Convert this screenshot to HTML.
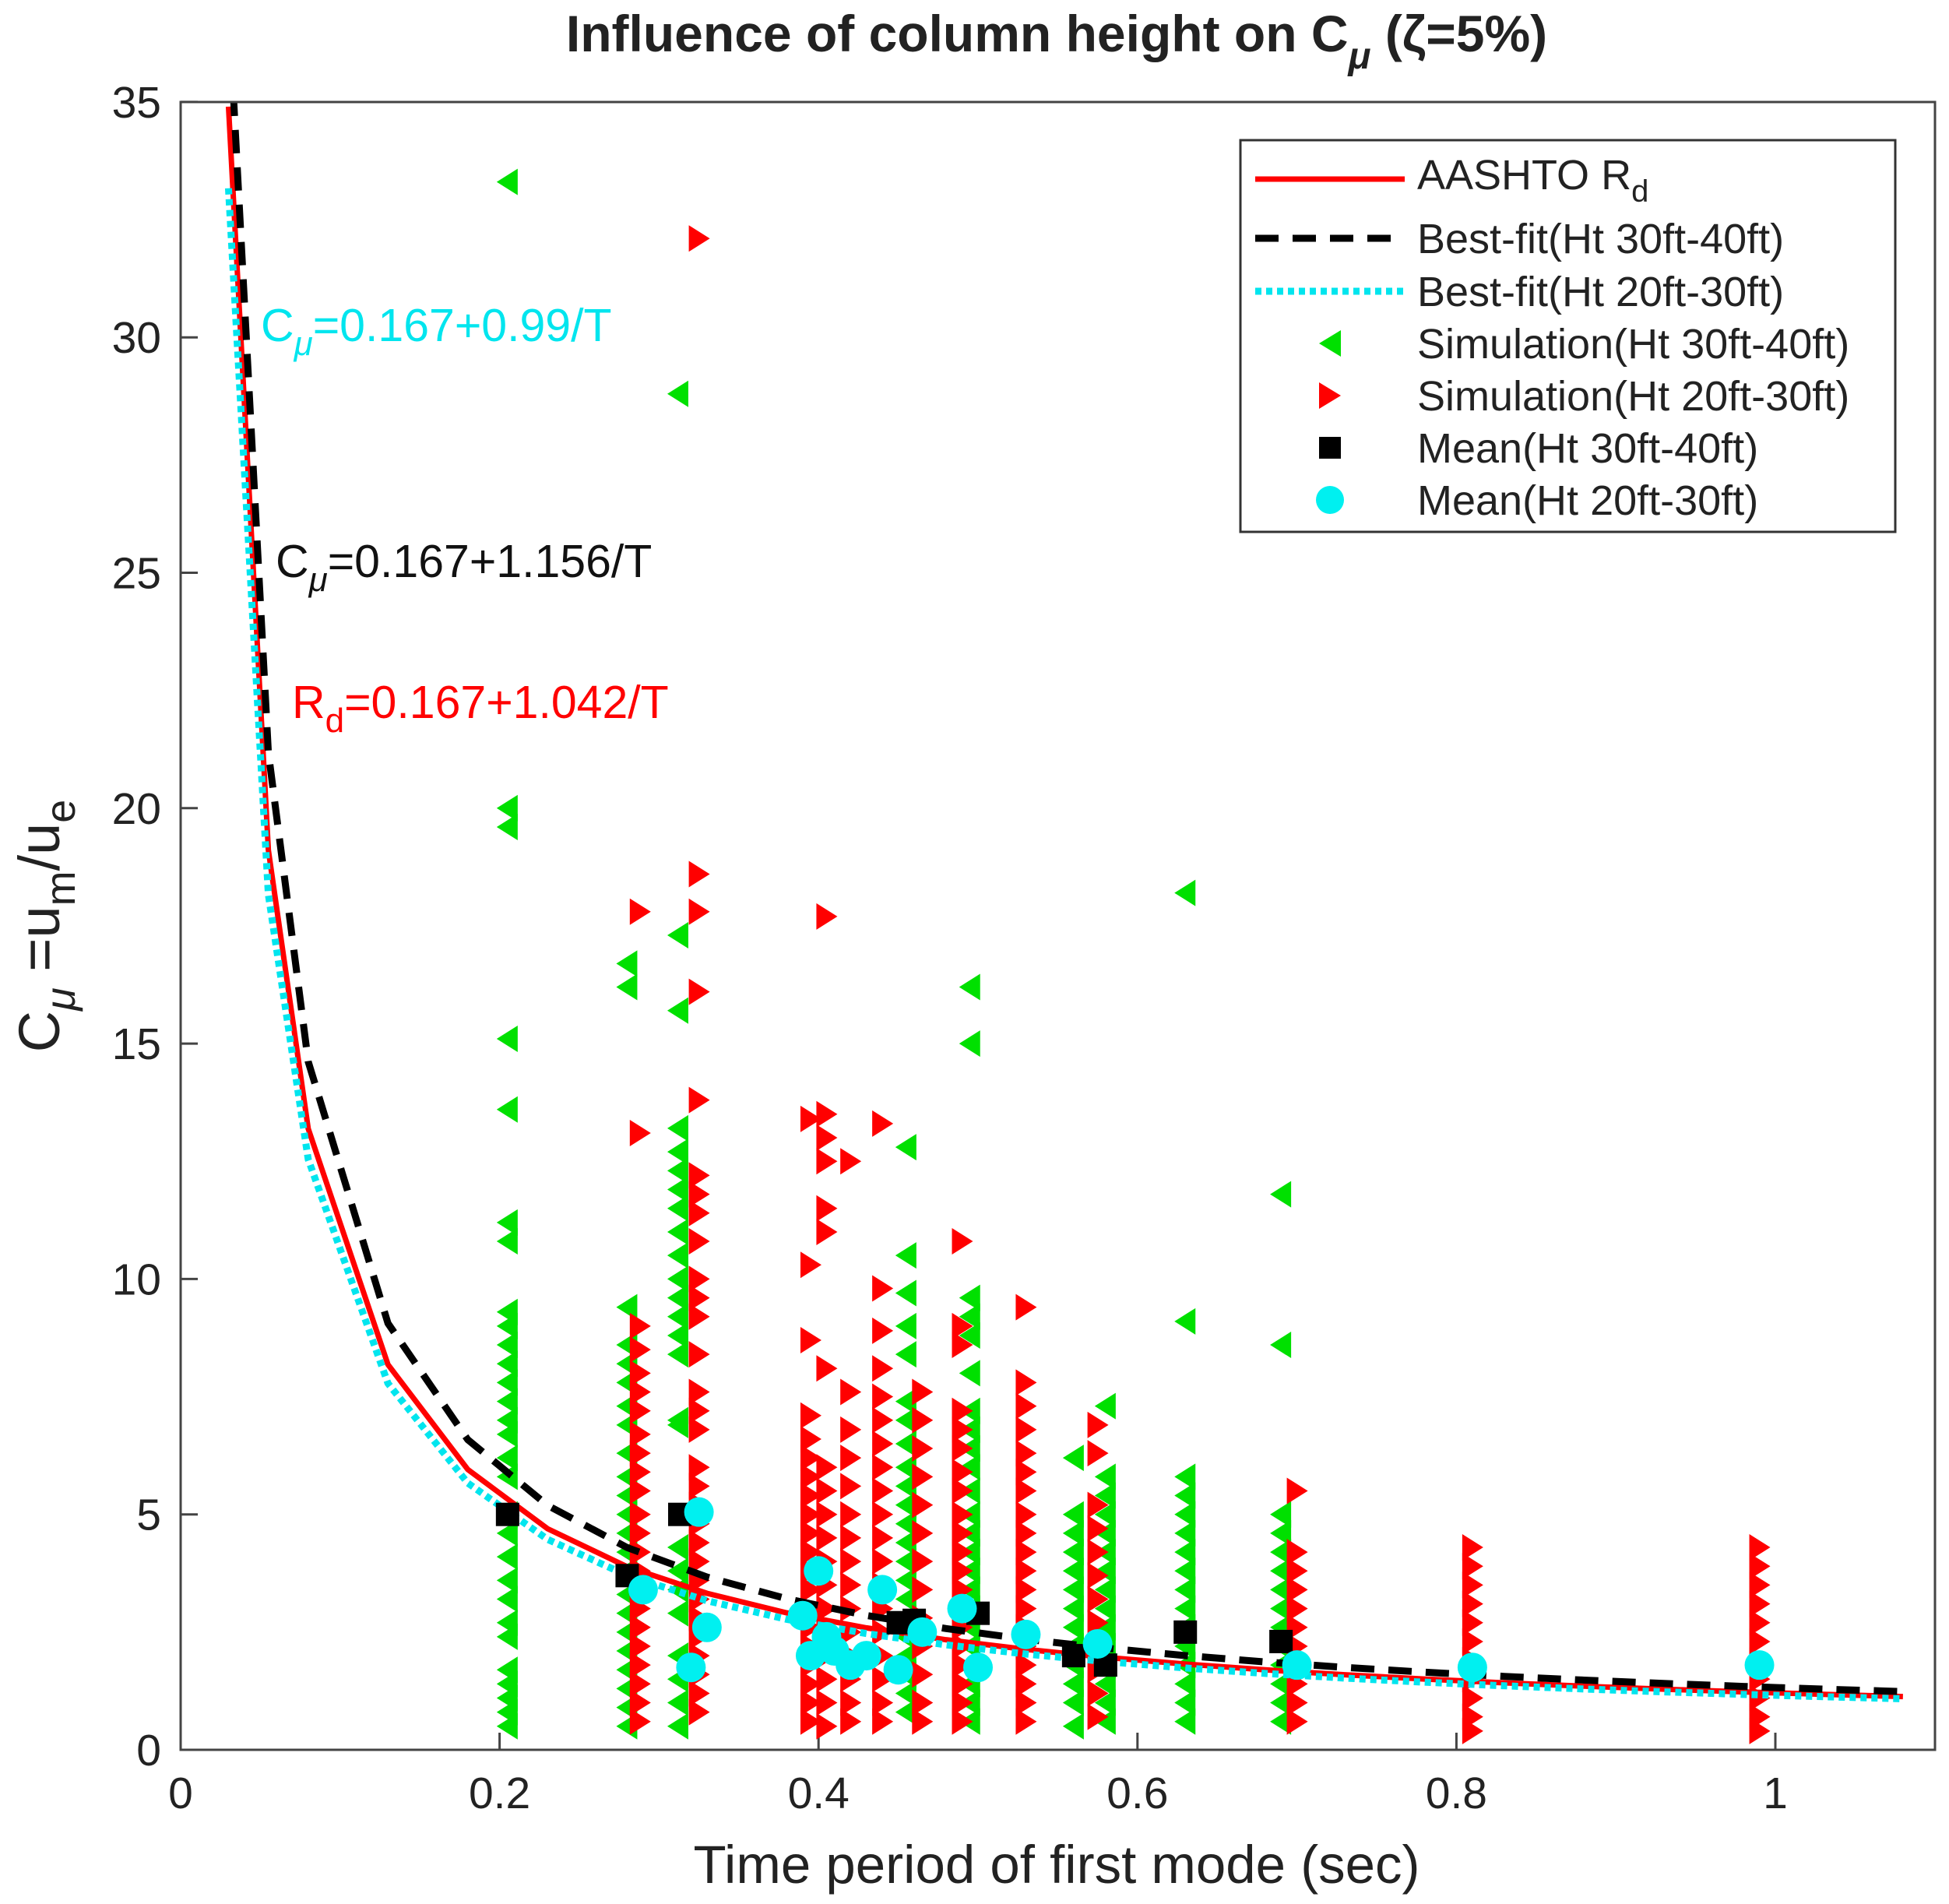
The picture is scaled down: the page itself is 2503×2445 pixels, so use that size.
<!DOCTYPE html>
<html><head><meta charset="utf-8"><style>
html,body{margin:0;padding:0;background:#fff;}
svg{display:block;font-family:"Liberation Sans",Arial,sans-serif;}
</style></head><body>
<svg id="chart" width="2503" height="2445" viewBox="0 0 2503 2445" xmlns="http://www.w3.org/2000/svg">
<defs><clipPath id="clip"><rect x="232" y="131" width="2253" height="2116"/></clipPath></defs>
<rect x="0" y="0" width="2503" height="2445" fill="#fff"/>
<text x="1357" y="66" font-size="66" font-weight="bold" text-anchor="middle" fill="#222">Influence of column height on C<tspan font-size="48" dy="22" font-style="italic">μ</tspan><tspan dy="-22"> (ζ=5%)</tspan></text>
<g id="ticks"></g>
<g id="marks" clip-path="url(#clip)"></g>
<rect x="232" y="131" width="2253" height="2116" fill="none" stroke="#444" stroke-width="3"/>
<text x="1357" y="2418" font-size="69" text-anchor="middle" fill="#222">Time period of first mode (sec)</text>
<text transform="translate(76,1189) rotate(-90)" font-size="74" text-anchor="middle" fill="#222">C<tspan font-size="54" dy="20" font-style="italic">μ</tspan><tspan dy="-20"> =u</tspan><tspan font-size="54" dy="20">m</tspan><tspan dy="-20">/u</tspan><tspan font-size="54" dy="20">e</tspan></text>
<text x="335" y="438" font-size="59" fill="#00e5ee">C<tspan font-size="44" dy="18" font-style="italic">μ</tspan><tspan dy="-18">=0.167+0.99/T</tspan></text>
<text x="354" y="741" font-size="59" fill="#111">C<tspan font-size="44" dy="18" font-style="italic">μ</tspan><tspan dy="-18">=0.167+1.156/T</tspan></text>
<text x="375" y="922" font-size="59" fill="#ff0000">R<tspan font-size="44" dy="18">d</tspan><tspan dy="-18">=0.167+1.042/T</tspan></text>
<g>
<rect x="1593" y="180" width="841" height="503" fill="#fff" stroke="#333" stroke-width="3"/>
<line x1="1612" y1="230" x2="1804" y2="230" stroke="#ff0000" stroke-width="7"/>
<text x="1820" y="243" font-size="54" fill="#222">AASHTO R<tspan font-size="40" dy="16">d</tspan></text>
<line x1="1612" y1="306" x2="1804" y2="306" stroke="#000" stroke-width="9" stroke-dasharray="30,18"/>
<text x="1820" y="325" font-size="54" fill="#222">Best-fit(Ht 30ft-40ft)</text>
<line x1="1612" y1="374" x2="1804" y2="374" stroke="#00e5ee" stroke-width="9" stroke-dasharray="8,6"/>
<text x="1820" y="393" font-size="54" fill="#222">Best-fit(Ht 20ft-30ft)</text>
<polygon points="1722,424 1722,458 1694,441" fill="#00e000"/>
<text x="1820" y="460" font-size="54" fill="#222">Simulation(Ht 30ft-40ft)</text>
<polygon points="1694,491 1694,525 1722,508" fill="#ff0000"/>
<text x="1820" y="527" font-size="54" fill="#222">Simulation(Ht 20ft-30ft)</text>
<rect x="1694" y="561" width="28" height="28" fill="#000"/>
<text x="1820" y="594" font-size="54" fill="#222">Mean(Ht 30ft-40ft)</text>
<circle cx="1708" cy="642" r="18" fill="#00f0f0"/>
<text x="1820" y="661" font-size="54" fill="#222">Mean(Ht 20ft-30ft)</text>
</g>
</svg>
<script>
const xTicks = [0, 0.2, 0.4, 0.6, 0.8, 1];
const xTickLabels = ["0", "0.2", "0.4", "0.6", "0.8", "1"];
const yTicks = [0, 5, 10, 15, 20, 25, 30, 35];
const yTickLabels = ["0", "5", "10", "15", "20", "25", "30", "35"];
const fitIntercept = 0.167;
const fitSlopes = [1.042, 1.156, 0.99]; // AASHTO, best-fit 30-40, best-fit 20-30
const curveT = [0.03,0.055,0.08,0.13,0.18,0.23,0.28,0.33,0.38,0.43,0.48,0.53,0.58,0.63,0.68,0.73,0.78,0.83,0.88,0.93,0.98,1.03,1.08];
const blackT = [0.033,0.055,0.08,0.13,0.18,0.23,0.28,0.33,0.38,0.43,0.48,0.53,0.58,0.63,0.68,0.73,0.78,0.83,0.88,0.93,0.98,1.03,1.08];
const sim30X = [0.205,0.28,0.312,0.455,0.495,0.56,0.58,0.63,0.69];
const sim30Y = [
 [33.3,20.0,19.6,15.1,13.6,11.2,10.8,9.3,9.0,8.6,8.2,7.8,7.4,7.0,6.7,6.2,5.8,5.0,4.6,4.1,3.6,3.2,2.7,2.4,1.7,1.4,1.1,0.8,0.5],
 [16.7,16.2,9.4,8.6,8.2,7.8,7.3,6.9,6.3,5.8,5.4,5.0,4.6,4.2,3.8,3.3,2.9,2.5,2.1,1.7,1.3,0.9,0.5],
 [28.8,17.3,15.7,13.2,12.7,12.3,11.9,11.5,11.0,10.5,10.0,9.6,9.2,8.8,8.4,7.0,6.9,4.3,3.8,3.4,2.9,2.0,1.5,1.0,0.5],
 [12.8,10.5,9.7,9.0,8.4,7.4,7.0,6.5,6.0,5.6,5.2,4.8,4.4,4.0,3.6,3.2,2.8,2.4,2.0,1.6,1.2,0.8],
 [16.2,15.0,9.6,9.2,8.8,8.0,7.2,6.8,6.4,6.0,5.5,5.0,4.6,4.2,3.8,3.4,3.0,2.6,2.2,1.8,1.4,1.0,0.6],
 [6.2,5.0,4.6,4.2,3.8,3.4,3.0,2.6,2.2,1.8,1.4,1.0,0.5],
 [7.3,5.8,5.4,5.0,4.6,4.2,3.8,3.4,3.0,2.6,2.2,1.8,1.4,1.0,0.6],
 [18.2,9.1,5.8,5.4,5.0,4.6,4.2,3.8,3.4,3.0,2.6,2.2,1.8,1.4,1.0,0.6],
 [11.8,8.6,5.0,4.6,4.2,3.8,3.4,3.0,2.6,2.2,1.8,1.4,1.0,0.6]
];
const sim20X = [0.288,0.325,0.395,0.405,0.42,0.44,0.465,0.49,0.53,0.575,0.70,0.81,0.99];
const sim20Y = [
 [17.8,13.1,9.0,8.5,8.0,7.6,7.2,6.7,6.3,5.9,5.5,5.0,4.6,4.2,3.8,3.4,3.0,2.6,2.2,1.8,1.4,1.0,0.6],
 [32.1,18.6,17.8,16.1,13.8,12.2,11.8,11.4,10.8,10.0,9.6,9.2,8.4,7.6,7.2,6.8,6.0,5.6,5.2,4.8,4.4,4.0,3.6,3.2,2.8,2.4,2.0,1.6,1.2,0.8],
 [13.4,10.3,8.7,7.1,6.6,6.2,5.8,5.4,5.0,4.6,4.2,3.8,3.4,3.0,2.6,2.2,1.8,1.4,1.0,0.6],
 [17.7,13.5,13.0,12.5,11.5,11.0,8.1,6.0,5.5,5.0,4.5,4.0,3.5,3.0,2.5,2.0,1.5,1.0,0.5],
 [12.5,7.6,6.8,6.2,5.6,5.0,4.5,4.0,3.5,3.0,2.5,2.0,1.5,1.0,0.6],
 [13.3,9.8,8.9,8.1,7.5,7.0,6.5,6.0,5.5,5.0,4.5,4.0,3.5,3.0,2.5,2.0,1.5,1.0,0.6],
 [7.6,7.0,6.4,5.8,5.2,4.6,4.0,3.4,2.8,2.2,1.6,1.0,0.6],
 [10.8,9.0,8.6,7.2,6.8,6.4,5.9,5.5,5.0,4.6,4.2,3.8,3.4,3.0,2.6,2.2,1.8,1.4,1.0,0.6],
 [9.4,7.8,7.3,6.8,6.3,5.9,5.5,5.0,4.6,4.2,3.8,3.4,3.0,2.6,2.2,1.8,1.4,1.0,0.6],
 [6.9,6.3,5.2,4.7,4.2,3.7,3.2,2.7,2.2,1.7,1.2,0.7],
 [5.5,4.2,3.8,3.4,3.0,2.6,2.2,1.8,1.4,1.0,0.6],
 [4.3,3.9,3.5,3.1,2.7,2.3,1.9,1.5,1.1,0.7,0.4],
 [4.3,3.9,3.5,3.1,2.7,2.3,1.9,1.5,1.1,0.7,0.4]
];
const mean30X = [0.205,0.28,0.313,0.45,0.46,0.50,0.56,0.58,0.63,0.69];
const mean30Y = [5.0,3.7,5.0,2.7,2.75,2.9,2.0,1.8,2.5,2.3];
const mean20X = [0.29,0.32,0.325,0.33,0.39,0.395,0.40,0.405,0.41,0.42,0.43,0.44,0.45,0.465,0.49,0.50,0.53,0.575,0.70,0.81,0.99];
const mean20Y = [3.4,1.75,5.05,2.6,2.85,2.0,3.8,2.4,2.1,1.8,2.0,3.4,1.7,2.5,3.0,1.75,2.45,2.25,1.8,1.75,1.8];

const X0=232, XS=2048, Y0=2247, YS=60.46;
const sx = v => X0 + v*XS;
const sy = v => Y0 - v*YS;
const NS="http://www.w3.org/2000/svg";
const marks=document.getElementById('marks');
const ticks=document.getElementById('ticks');
function mk(tag, attrs, parent){const e=document.createElementNS(NS,tag);for(const k in attrs)e.setAttribute(k,attrs[k]);parent.appendChild(e);return e;}

xTicks.forEach((t,i)=>{
  const l=mk('line',{x1:sx(t),x2:sx(t),y1:Y0,y2:Y0-22,stroke:'#444','stroke-width':3},ticks);
  
  
  const tx=mk('text',{x:sx(t),y:Y0+75,'font-size':57,'text-anchor':'middle',fill:'#222'},ticks);
  tx.textContent=xTickLabels[i];
  
  
});
yTicks.forEach((t,i)=>{
  const l=mk('line',{x1:X0,x2:X0+22,y1:sy(t),y2:sy(t),stroke:'#444','stroke-width':3},ticks);
  
  
  const tx=mk('text',{x:X0-25,y:sy(t)+20,'font-size':57,'text-anchor':'end',fill:'#222'},ticks);
  tx.textContent=yTickLabels[i];
  
  
});

sim30X.forEach((x,i)=>{
  sim30Y[i].forEach(y=>{
    const cx=sx(x), cy=sy(y);
    const p=mk('polygon',{points:`${cx+13},${cy-17} ${cx+13},${cy+17} ${cx-14},${cy}`,fill:'#00e000'},marks);
    
    
  });
});
sim20X.forEach((x,i)=>{
  sim20Y[i].forEach(y=>{
    const cx=sx(x), cy=sy(y);
    const p=mk('polygon',{points:`${cx-13},${cy-17} ${cx-13},${cy+17} ${cx+14},${cy}`,fill:'#ff0000'},marks);
    
    
  });
});

function curve(T, slope, attrs, name){
  const pts=T.map(t=>`${sx(t)},${sy(fitIntercept+slope/t)}`).join(' ');
  const p=mk('polyline',Object.assign({points:pts,fill:'none','stroke-linejoin':'round'},attrs),marks);
  
  
}
curve(curveT, fitSlopes[0], {stroke:'#ff0000','stroke-width':7}, 'aashto-curve');
curve(blackT, fitSlopes[1], {stroke:'#000','stroke-width':9,'stroke-dasharray':'30,18'}, 'bestfit-30-40-curve');
curve(curveT, fitSlopes[2], {stroke:'#00e5ee','stroke-width':9,'stroke-dasharray':'8,6'}, 'bestfit-20-30-curve');

mean30X.forEach((x,i)=>{
  const r=mk('rect',{x:sx(x)-15,y:sy(mean30Y[i])-15,width:30,height:30,fill:'#000'},marks);
  
  
});
mean20X.forEach((x,i)=>{
  const c=mk('circle',{cx:sx(x),cy:sy(mean20Y[i]),r:19,fill:'#00f0f0'},marks);
  
  
});
</script>
</body></html>
